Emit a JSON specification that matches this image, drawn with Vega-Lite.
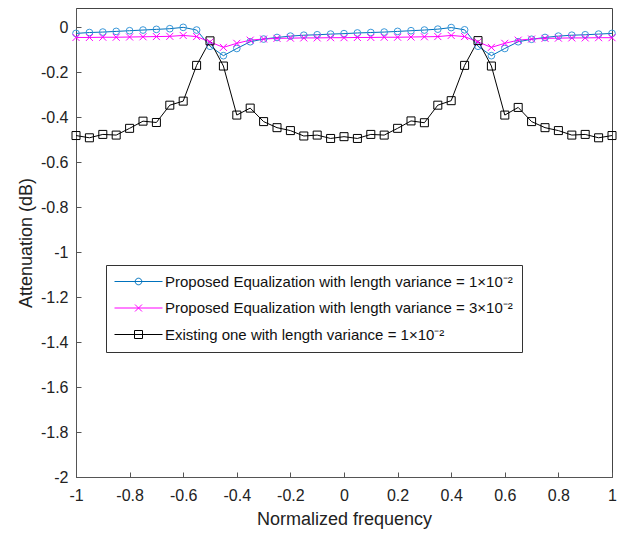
{
  "$schema": "https://vega.github.io/schema/vega-lite/v6.json",
  "width": 536,
  "height": 469,
  "autosize": {"type": "none"},
  "padding": {"left": 76, "top": 8, "right": 12, "bottom": 56},
  "background": "white",
  "config": {
    "view": {"stroke": "#444444", "strokeWidth": 1},
    "font": "Liberation Sans",
    "axis": {
      "grid": false,
      "domainColor": "#555555",
      "tickColor": "#555555",
      "labelColor": "#222222",
      "titleColor": "#222222",
      "labelFont": "Liberation Sans",
      "titleFont": "Liberation Sans",
      "labelFontSize": 16,
      "titleFontSize": 18,
      "titleFontWeight": "normal",
      "tickSize": -5,
      "labelFlush": false,
      "labelOverlap": false
    }
  },
  "data": {
    "values": [
      {"f": -1, "s": "A", "v": -0.028}, {"f": -0.95, "s": "A", "v": -0.024}, {"f": -0.9, "s": "A", "v": -0.022}, {"f": -0.85, "s": "A", "v": -0.019}, {"f": -0.8, "s": "A", "v": -0.016}, {"f": -0.75, "s": "A", "v": -0.013}, {"f": -0.7, "s": "A", "v": -0.010}, {"f": -0.65, "s": "A", "v": -0.007}, {"f": -0.6, "s": "A", "v": -0.001}, {"f": -0.55, "s": "A", "v": -0.013}, {"f": -0.5, "s": "A", "v": -0.085}, {"f": -0.45, "s": "A", "v": -0.127}, {"f": -0.4, "s": "A", "v": -0.095}, {"f": -0.35, "s": "A", "v": -0.065}, {"f": -0.3, "s": "A", "v": -0.053}, {"f": -0.25, "s": "A", "v": -0.046}, {"f": -0.2, "s": "A", "v": -0.040}, {"f": -0.15, "s": "A", "v": -0.036}, {"f": -0.1, "s": "A", "v": -0.034}, {"f": -0.05, "s": "A", "v": -0.031}, {"f": 0, "s": "A", "v": -0.029}, {"f": 0.05, "s": "A", "v": -0.026}, {"f": 0.1, "s": "A", "v": -0.024}, {"f": 0.15, "s": "A", "v": -0.022}, {"f": 0.2, "s": "A", "v": -0.019}, {"f": 0.25, "s": "A", "v": -0.016}, {"f": 0.3, "s": "A", "v": -0.013}, {"f": 0.35, "s": "A", "v": -0.009}, {"f": 0.4, "s": "A", "v": -0.002}, {"f": 0.45, "s": "A", "v": -0.012}, {"f": 0.5, "s": "A", "v": -0.085}, {"f": 0.55, "s": "A", "v": -0.127}, {"f": 0.6, "s": "A", "v": -0.095}, {"f": 0.65, "s": "A", "v": -0.065}, {"f": 0.7, "s": "A", "v": -0.054}, {"f": 0.75, "s": "A", "v": -0.046}, {"f": 0.8, "s": "A", "v": -0.040}, {"f": 0.85, "s": "A", "v": -0.036}, {"f": 0.9, "s": "A", "v": -0.034}, {"f": 0.95, "s": "A", "v": -0.031}, {"f": 1, "s": "A", "v": -0.028},
      {"f": -1, "s": "B", "v": -0.046}, {"f": -0.95, "s": "B", "v": -0.046}, {"f": -0.9, "s": "B", "v": -0.045}, {"f": -0.85, "s": "B", "v": -0.045}, {"f": -0.8, "s": "B", "v": -0.044}, {"f": -0.75, "s": "B", "v": -0.043}, {"f": -0.7, "s": "B", "v": -0.042}, {"f": -0.65, "s": "B", "v": -0.041}, {"f": -0.6, "s": "B", "v": -0.037}, {"f": -0.55, "s": "B", "v": -0.042}, {"f": -0.5, "s": "B", "v": -0.066}, {"f": -0.45, "s": "B", "v": -0.090}, {"f": -0.4, "s": "B", "v": -0.072}, {"f": -0.35, "s": "B", "v": -0.058}, {"f": -0.3, "s": "B", "v": -0.053}, {"f": -0.25, "s": "B", "v": -0.050}, {"f": -0.2, "s": "B", "v": -0.049}, {"f": -0.15, "s": "B", "v": -0.048}, {"f": -0.1, "s": "B", "v": -0.048}, {"f": -0.05, "s": "B", "v": -0.047}, {"f": 0, "s": "B", "v": -0.047}, {"f": 0.05, "s": "B", "v": -0.046}, {"f": 0.1, "s": "B", "v": -0.046}, {"f": 0.15, "s": "B", "v": -0.045}, {"f": 0.2, "s": "B", "v": -0.045}, {"f": 0.25, "s": "B", "v": -0.044}, {"f": 0.3, "s": "B", "v": -0.043}, {"f": 0.35, "s": "B", "v": -0.042}, {"f": 0.4, "s": "B", "v": -0.037}, {"f": 0.45, "s": "B", "v": -0.042}, {"f": 0.5, "s": "B", "v": -0.066}, {"f": 0.55, "s": "B", "v": -0.090}, {"f": 0.6, "s": "B", "v": -0.072}, {"f": 0.65, "s": "B", "v": -0.058}, {"f": 0.7, "s": "B", "v": -0.053}, {"f": 0.75, "s": "B", "v": -0.050}, {"f": 0.8, "s": "B", "v": -0.049}, {"f": 0.85, "s": "B", "v": -0.048}, {"f": 0.9, "s": "B", "v": -0.048}, {"f": 0.95, "s": "B", "v": -0.047}, {"f": 1, "s": "B", "v": -0.047},
      {"f": -1, "s": "C", "v": -0.482}, {"f": -0.95, "s": "C", "v": -0.492}, {"f": -0.9, "s": "C", "v": -0.477}, {"f": -0.85, "s": "C", "v": -0.480}, {"f": -0.8, "s": "C", "v": -0.450}, {"f": -0.75, "s": "C", "v": -0.418}, {"f": -0.7, "s": "C", "v": -0.424}, {"f": -0.65, "s": "C", "v": -0.347}, {"f": -0.6, "s": "C", "v": -0.329}, {"f": -0.55, "s": "C", "v": -0.170}, {"f": -0.5, "s": "C", "v": -0.061}, {"f": -0.45, "s": "C", "v": -0.173}, {"f": -0.4, "s": "C", "v": -0.391}, {"f": -0.35, "s": "C", "v": -0.360}, {"f": -0.3, "s": "C", "v": -0.420}, {"f": -0.25, "s": "C", "v": -0.447}, {"f": -0.2, "s": "C", "v": -0.460}, {"f": -0.15, "s": "C", "v": -0.484}, {"f": -0.1, "s": "C", "v": -0.480}, {"f": -0.05, "s": "C", "v": -0.495}, {"f": 0, "s": "C", "v": -0.487}, {"f": 0.05, "s": "C", "v": -0.495}, {"f": 0.1, "s": "C", "v": -0.477}, {"f": 0.15, "s": "C", "v": -0.480}, {"f": 0.2, "s": "C", "v": -0.450}, {"f": 0.25, "s": "C", "v": -0.417}, {"f": 0.3, "s": "C", "v": -0.425}, {"f": 0.35, "s": "C", "v": -0.347}, {"f": 0.4, "s": "C", "v": -0.327}, {"f": 0.45, "s": "C", "v": -0.170}, {"f": 0.5, "s": "C", "v": -0.060}, {"f": 0.55, "s": "C", "v": -0.173}, {"f": 0.6, "s": "C", "v": -0.391}, {"f": 0.65, "s": "C", "v": -0.357}, {"f": 0.7, "s": "C", "v": -0.420}, {"f": 0.75, "s": "C", "v": -0.447}, {"f": 0.8, "s": "C", "v": -0.460}, {"f": 0.85, "s": "C", "v": -0.480}, {"f": 0.9, "s": "C", "v": -0.477}, {"f": 0.95, "s": "C", "v": -0.492}, {"f": 1, "s": "C", "v": -0.482}
    ]
  },
  "encoding": {
    "x": {
      "field": "f", "type": "quantitative",
      "scale": {"domain": [-1, 1], "nice": false, "zero": false},
      "axis": {"title": "Normalized frequency", "values": [-1, -0.8, -0.6, -0.4, -0.2, 0, 0.2, 0.4, 0.6, 0.8, 1], "labelExpr": "toString(datum.value)", "labelPadding": 15, "titlePadding": 7}
    },
    "y": {
      "field": "v", "type": "quantitative",
      "scale": {"domain": [-2, 0.085], "nice": false, "zero": false},
      "axis": {"title": "Attenuation (dB)", "values": [-2, -1.8, -1.6, -1.4, -1.2, -1, -0.8, -0.6, -0.4, -0.2, 0], "labelExpr": "toString(datum.value)", "labelPadding": 13, "titlePadding": 5}
    }
  },
  "layer": [
    {
      "mark": {"type": "line", "strokeWidth": 1},
      "encoding": {
        "color": {
          "field": "s", "type": "nominal",
          "scale": {"domain": ["A", "B", "C"], "range": ["#0072BD", "#FF00FF", "#000000"]},
          "legend": {
            "title": null,
            "orient": "none",
            "legendX": 30,
            "legendY": 257,
            "direction": "vertical",
            "padding": 9,
            "rowPadding": 10.5,
            "strokeColor": "#333333",
            "fillColor": "white",
            "symbolSize": 4,
            "symbolStrokeWidth": 1,
            "labelOffset": 35,
            "labelFont": "Liberation Sans",
            "labelFontSize": 15,
            "labelColor": "#111111",
            "labelLimit": 0,
            "labelExpr": "datum.value === 'A' ? 'Proposed Equalization with length variance = 1×10⁻²' : datum.value === 'B' ? 'Proposed Equalization with length variance = 3×10⁻²' : 'Existing one with length variance = 1×10⁻²'",
            "encode": {
              "symbols": {
                "update": {
                  "shape": {"signal": "datum.value === 'A' ? 'M-8,0H40M19.3,0A3.3,3.3 0 1,1 12.7,0A3.3,3.3 0 1,1 19.3,0' : datum.value === 'B' ? 'M-8,0H40M12.5,-3.5L19.5,3.5M12.5,3.5L19.5,-3.5' : 'M-8,0H40M12,-4H20V4H12Z'"},
                  "fill": {"value": "transparent"},
                  "size": {"value": 4}
                }
              }
            }
          }
        }
      }
    },
    {
      "transform": [{"filter": "datum.s === 'A'"}],
      "mark": {"type": "point", "shape": "circle", "filled": false, "stroke": "#3A98DA", "strokeWidth": 1, "size": 45, "opacity": 1}
    },
    {
      "transform": [{"filter": "datum.s === 'B'"}],
      "mark": {"type": "point", "shape": "M-1,-1L1,1M-1,1L1,-1", "filled": false, "stroke": "#FF00FF", "strokeWidth": 1, "size": 49, "opacity": 1}
    },
    {
      "transform": [{"filter": "datum.s === 'C'"}],
      "mark": {"type": "point", "shape": "square", "filled": false, "stroke": "#000000", "strokeWidth": 1, "size": 64, "opacity": 1}
    }
  ]
}
